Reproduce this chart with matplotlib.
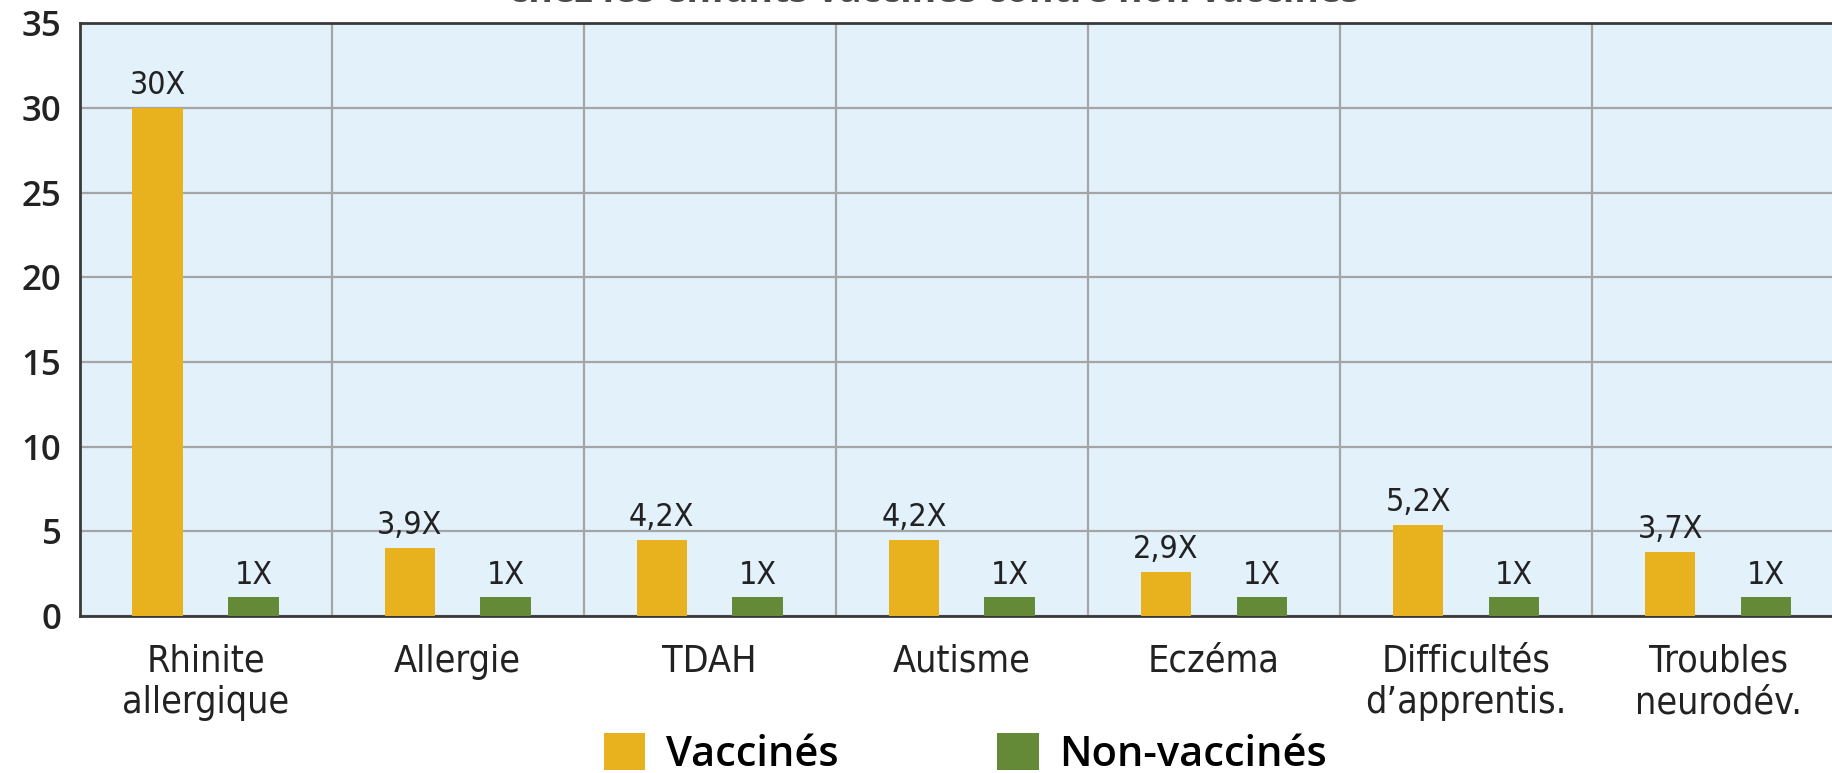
import matplotlib
matplotlib.use("Agg")
import matplotlib.pyplot as plt
from matplotlib import font_manager
import numpy as np

# données
categories = ["Rhinite\nallergique", "Allergie", "TDAH", "Autisme", "Eczéma",
              "Difficultés\nd\u2019apprentis.", "Troubles\nneurodév."]
vaccines = [30, 4.0, 4.5, 4.5, 2.6, 5.4, 3.8]
non_vaccines = [1.1, 1.1, 1.1, 1.1, 1.1, 1.1, 1.1]
labels_vacc = ["30X", "3,9X", "4,2X", "4,2X", "2,9X", "5,2X", "3,7X"]
labels_non = ["1X"] * 7
yticks = [0, 5, 10, 15, 20, 25, 30, 35]
titre = "chez les enfants vaccinés contre non vaccinés"

orange = "#E8B21E"
vert = "#648A38"
fond = "#E3F1FB"

# police étroite si disponible
noms = {f.name for f in font_manager.fontManager.ttflist}
cond = [f for f in font_manager.fontManager.ttflist
        if f.name == "DejaVu Sans" and f.stretch == "condensed"]
if "Liberation Sans Narrow" in noms:
    narrow = dict(family=["Liberation Sans Narrow", "DejaVu Sans"])
elif cond:
    narrow = dict(family=["DejaVu Sans"], stretch="condensed")
else:
    narrow = dict(family=["Roboto", "DejaVu Sans"])
bold = ["Open Sans", "DejaVu Sans"]

fig = plt.figure(figsize=(18.32, 7.73), dpi=100)
ax = fig.add_axes([0.0434, 0.203, 0.9632, 0.767])
ax.set_facecolor(fond)

x = np.arange(len(categories))
w = 0.2
b1 = ax.bar(x - 0.19, vaccines, w, color=orange, zorder=3, label="Vaccinés")
b2 = ax.bar(x + 0.19, non_vaccines, w, color=vert, zorder=3, label="Non-vaccinés")

for bars, labs in ((b1, labels_vacc), (b2, labels_non)):
    for rect, lab in zip(bars, labs):
        ax.annotate(lab, (rect.get_x() + rect.get_width() / 2, rect.get_height()),
                    xytext=(0, 5), textcoords="offset points", ha="center", va="bottom",
                    fontsize=23, color="#222222", zorder=4, **narrow)

ax.set_xlim(-0.5, len(categories) - 0.5)
ax.set_ylim(0, 35)
ax.set_yticks(yticks)
ax.set_yticklabels([str(t) for t in yticks], fontsize=25, family=bold,
                   fontweight="semibold", color="#222222")
ax.set_xticks(x)
ax.set_xticklabels(categories, fontsize=27, color="#222222",
                   linespacing=1.2, **narrow)
ax.tick_params(axis="y", length=0, pad=13)
ax.tick_params(axis="x", length=0, pad=20)

# quadrillage
ax.set_xticks(np.arange(0.5, len(categories) - 0.5, 1), minor=True)
ax.grid(axis="y", which="major", color="#A5A5A5", linewidth=1.6, zorder=1)
ax.grid(axis="x", which="minor", color="#A5A5A5", linewidth=1.6, zorder=1)
ax.tick_params(axis="x", which="minor", length=0)

for s in ("left", "bottom", "top"):
    ax.spines[s].set_color("#3A3A3A")
    ax.spines[s].set_linewidth(2)
ax.spines["right"].set_visible(False)

fig.text(0.51, 0.998, titre, ha="center", va="baseline", fontsize=27,
         family=bold, fontweight="bold", color="#4A4A4A")

fig.legend(handles=[b1, b2], loc="center", bbox_to_anchor=(0.527, 0.024),
           ncol=2, frameon=False, handlelength=1.0, handleheight=1.0,
           handletextpad=0.5, columnspacing=3.8,
           prop={"family": bold, "weight": "semibold", "size": 30})

fig.savefig("out.png", dpi=100)
